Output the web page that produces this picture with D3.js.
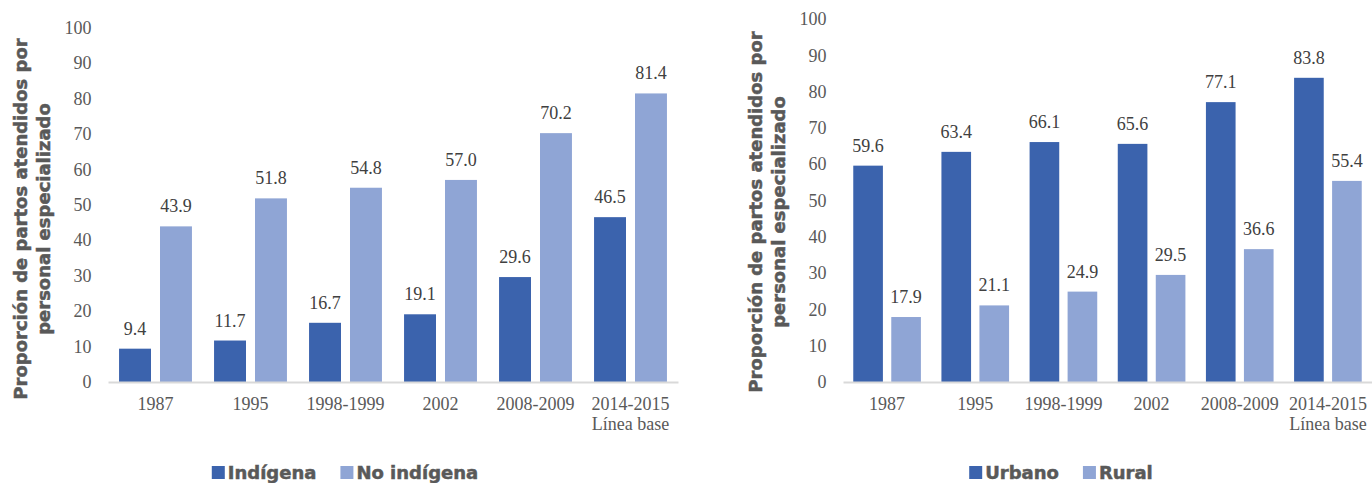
<!DOCTYPE html>
<html>
<head>
<meta charset="utf-8">
<script src="https://cdn.jsdelivr.net/npm/d3@7"></script>
<style>
  body { margin: 0; background: #fff; }
  .serif { font-family: "Liberation Serif", "Times New Roman", serif; }
  .bold { font-family: "DejaVu Sans", sans-serif; font-weight: bold; stroke: #595959; stroke-width: 0.5px; }
</style>
</head>
<body>
<svg id="chart" width="1372" height="483"></svg>
<script>
// datos
var categories = ["1987", "1995", "1998-1999", "2002", "2008-2009", "2014-2015"];
var subLabels = ["", "", "", "", "", "Línea base"];
var indigena = [9.4, 11.7, 16.7, 19.1, 29.6, 46.5];
var noIndigena = [43.9, 51.8, 54.8, 57.0, 70.2, 81.4];
var urbano = [59.6, 63.4, 66.1, 65.6, 77.1, 83.8];
var rural = [17.9, 21.1, 24.9, 29.5, 36.6, 55.4];
var yTicks = [0, 10, 20, 30, 40, 50, 60, 70, 80, 90, 100];
var titleLines = ["Proporción de partos atendidos por", "personal especializado"];

var darkBlue = "#3b63ad", lightBlue = "#8fa5d5";
var grey = "#595959";

var svg = d3.select("#chart");

drawChart({
  left: 108, right: 678, top: 27.5, bottom: 382,
  series: [{name: "Indígena", values: indigena, color: darkBlue},
           {name: "No indígena", values: noIndigena, color: lightBlue}],
  titleX: [21, 44], titleY: 219,
  legendX: 345
});

drawChart({
  left: 843, right: 1372, top: 19, bottom: 382,
  series: [{name: "Urbano", values: urbano, color: darkBlue},
           {name: "Rural", values: rural, color: lightBlue}],
  titleX: [756, 779], titleY: 212,
  legendX: 1061
});

function drawChart(c) {
  var g = svg.append("g");

  var x = d3.scaleBand()
    .domain(categories)
    .range([c.left, c.right])
    .padding(0);

  var x1 = d3.scaleBand()
    .domain(c.series.map(function(s){ return s.name; }))
    .range([0, x.bandwidth()])
    .paddingInner(0.22)
    .paddingOuter(0.27);

  var y = d3.scaleLinear()
    .domain([0, 100])
    .range([c.bottom, c.top]);

  // eje y
  var yAxis = g.append("g")
    .attr("transform", "translate(" + c.left + ",0)")
    .call(d3.axisLeft(y).tickValues(yTicks).tickSize(0).tickPadding(16.5));
  yAxis.select(".domain").remove();
  yAxis.selectAll(".tick text")
    .attr("class", "serif")
    .style("font-size", "18px")
    .attr("fill", grey);

  // barras
  c.series.forEach(function(s) {
    var bars = g.append("g");
    bars.selectAll("rect")
      .data(s.values)
      .enter().append("rect")
      .attr("x", function(d, i){ return x(categories[i]) + x1(s.name); })
      .attr("y", function(d){ return y(d); })
      .attr("width", x1.bandwidth())
      .attr("height", function(d){ return c.bottom - y(d); })
      .attr("fill", s.color);

    bars.selectAll("text")
      .data(s.values)
      .enter().append("text")
      .attr("class", "serif")
      .attr("x", function(d, i){ return x(categories[i]) + x1(s.name) + x1.bandwidth() / 2; })
      .attr("y", function(d){ return y(d) - 14; })
      .attr("text-anchor", "middle")
      .style("font-size", "18px")
      .attr("fill", "#404040")
      .text(function(d){ return d.toFixed(1); });
  });

  // eje x
  var xAxis = g.append("g")
    .attr("transform", "translate(0," + c.bottom + ")")
    .call(d3.axisBottom(x).tickSize(0).tickSizeOuter(0).tickPadding(15));
  xAxis.select(".domain")
    .attr("stroke", "#d9d9d9")
    .attr("stroke-width", 2);
  xAxis.selectAll(".tick text")
    .attr("class", "serif")
    .style("font-size", "18px")
    .attr("fill", grey);
  xAxis.selectAll(".tick")
    .append("text")
    .attr("class", "serif")
    .attr("y", 48)
    .attr("text-anchor", "middle")
    .style("font-size", "18px")
    .attr("fill", grey)
    .text(function(d){ return subLabels[categories.indexOf(d)]; });

  // titulo del eje y
  titleLines.forEach(function(t, i) {
    g.append("text")
      .attr("class", "bold")
      .attr("transform", "translate(" + c.titleX[i] + "," + c.titleY + ") rotate(-90)")
      .attr("text-anchor", "middle")
      .attr("dy", "0.35em")
      .style("font-size", "18px")
      .attr("fill", grey)
      .text(t);
  });

  // leyenda
  var leg = g.append("g");
  var cx = 0;
  c.series.forEach(function(s, i) {
    if (i > 0) cx += 24;
    leg.append("rect")
      .attr("x", cx).attr("y", 466)
      .attr("width", 13).attr("height", 13)
      .attr("fill", s.color);
    var t = leg.append("text")
      .attr("class", "bold")
      .attr("x", cx + 16).attr("y", 479)
      .style("font-size", "18px")
      .attr("fill", grey)
      .text(s.name);
    cx += 16 + t.node().getComputedTextLength();
  });
  leg.attr("transform", "translate(" + (c.legendX - cx / 2) + ",0)");
}
</script>
</body>
</html>
